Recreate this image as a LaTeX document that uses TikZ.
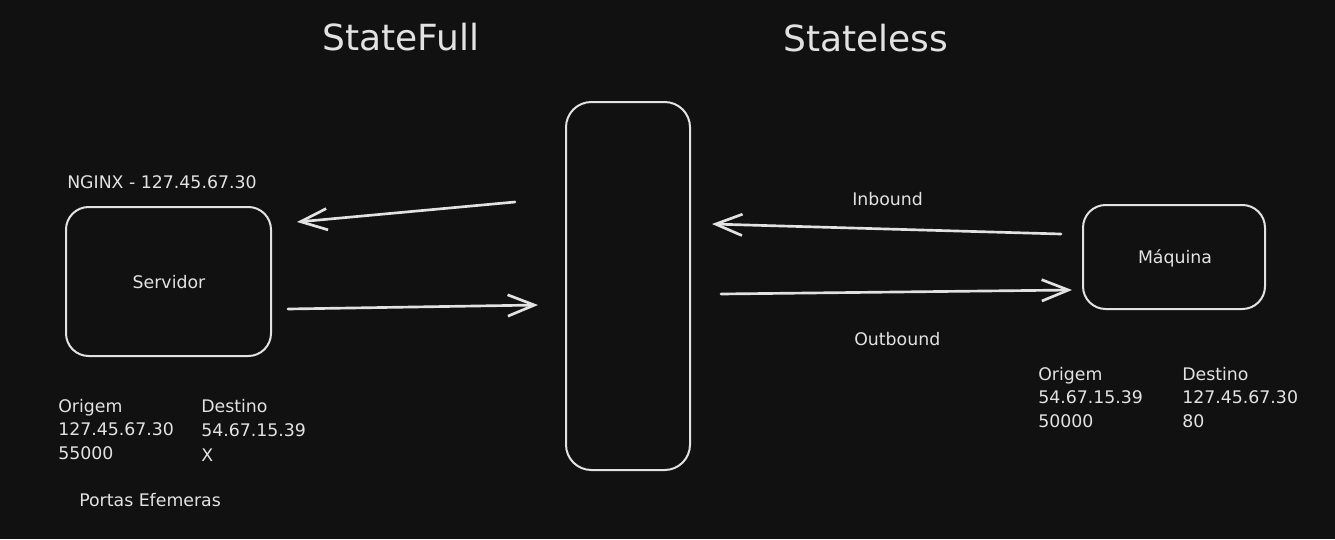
\documentclass[tikz,border=0pt]{standalone}
\usepackage{fontspec}
\setmainfont{DejaVu Sans}
\usetikzlibrary{arrows.meta}
\definecolor{bg}{RGB}{18,17,18}
\definecolor{ink}{RGB}{226,226,226}
\begin{document}
\begin{tikzpicture}[x=0.75pt,y=-0.75pt,
  box/.style={draw=ink,line width=1.5pt,rounded corners=17pt,inner sep=0pt,
    text=ink,font=\fontsize{13}{15}\selectfont},
  conn/.style={draw=ink,line width=2pt,line cap=round,
    -{Straight Barb[length=20pt,width=16pt,line width=2pt]}},
  lbl/.style={text=ink,font=\fontsize{13}{15}\selectfont,inner sep=0pt,anchor=base west},
  ttl/.style={text=ink,font=\fontsize{27}{32}\selectfont,inner sep=0pt,anchor=base west}]
\fill[bg] (0,0) rectangle (1335,539);
\useasboundingbox (0,0) rectangle (1335,539);

% titles
\node[ttl] (tfull) at (322,50) {StateFull};
\node[ttl] (tless) at (783,51) {Stateless};

% boxes
\node[box,minimum width=153.75pt,minimum height=111.75pt] (srv) at (168.5,281.5) {};
\node[lbl,anchor=base] (srvt) at (169,288) {Servidor};
\node[box,minimum width=93pt,minimum height=276pt,rounded corners=19pt] (fw) at (628,286) {};
\node[box,minimum width=136.5pt,minimum height=78pt] (maq) at (1174,257) {};
\node[lbl,anchor=base] (maqt) at (1175,263) {Máquina};

% arrow end points
\coordinate (a1s) at (515,202);
\coordinate (a1e) at (297,222);
\coordinate (a2s) at (288,309);
\coordinate (a2e) at (538,305);
\coordinate (a3s) at (1061,234);
\coordinate (a3e) at (712,224);
\coordinate (a4s) at (721,294);
\coordinate (a4e) at (1072,290);
\draw[conn] (a1s) -- (a1e);
\draw[conn] (a2s) -- (a2e);
\draw[conn] (a3s) -- (a3e);
\draw[conn] (a4s) -- (a4e);

\node[lbl] (inb) at (852,205) {Inbound};
\node[lbl] (outb) at (854,345) {Outbound};

% left labels
\node[lbl] (ngx) at (67,188) {NGINX - 127.45.67.30};
\node[lbl] (lo1) at (58,412) {Origem};
\node[lbl] (lo2) at (58,435) {127.45.67.30};
\node[lbl] (lo3) at (58,459) {55000};
\node[lbl] (ld1) at (201,412) {Destino};
\node[lbl] (ld2) at (201,436) {54.67.15.39};
\node[lbl] (ld3) at (201,461) {X};
\node[lbl] (port) at (79,506) {Portas Efemeras};

% right labels
\node[lbl] (ro1) at (1038,380) {Origem};
\node[lbl] (ro2) at (1038,403) {54.67.15.39};
\node[lbl] (ro3) at (1038,427) {50000};
\node[lbl] (rd1) at (1182,380) {Destino};
\node[lbl] (rd2) at (1182,403) {127.45.67.30};
\node[lbl] (rd3) at (1182,427) {80};
\end{tikzpicture}
\end{document}
